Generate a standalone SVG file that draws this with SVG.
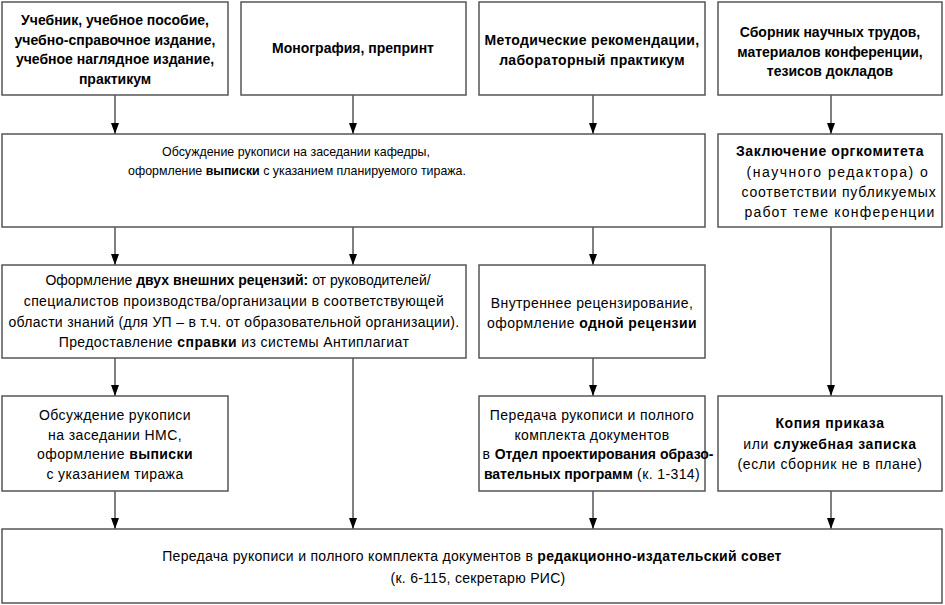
<svg xmlns="http://www.w3.org/2000/svg" width="945" height="605" viewBox="0 0 945 605">
<style>
.box{fill:#fff;stroke:#555;stroke-width:1.5}
.t{font-family:"Liberation Sans",Arial,sans-serif;fill:#000;text-anchor:middle}
.h{font-size:14px;font-weight:bold}
.r{font-size:14px;letter-spacing:0.4px}
.w6{letter-spacing:0.6px}
.s{letter-spacing:0.3px}
.m{font-size:12.4px}
.b{font-weight:bold}
.c{stroke:#000;stroke-width:1;fill:none;marker-end:url(#ah)}
</style>
<defs>
<marker id="ah" viewBox="0 0 11 8" refX="11" refY="4" markerWidth="11" markerHeight="8" markerUnits="userSpaceOnUse" orient="auto">
<path d="M0,0 L11,4 L0,8 z" fill="#000"/>
</marker>
</defs>
<rect width="945" height="605" fill="#fff"/>
<g id="connectors">
<line class="c" x1="115" y1="95" x2="115" y2="134"/>
<line class="c" x1="353" y1="95" x2="353" y2="134"/>
<line class="c" x1="593" y1="95" x2="593" y2="134"/>
<line class="c" x1="831" y1="95" x2="831" y2="134"/>
<line class="c" x1="115" y1="227" x2="115" y2="265"/>
<line class="c" x1="353" y1="227" x2="353" y2="265"/>
<line class="c" x1="593" y1="227" x2="593" y2="265"/>
<line class="c" x1="831" y1="227" x2="831" y2="396"/>
<line class="c" x1="115" y1="358" x2="115" y2="396"/>
<line class="c" x1="593" y1="358" x2="593" y2="396"/>
<line class="c" x1="353" y1="358" x2="353" y2="529"/>
<line class="c" x1="115" y1="491" x2="115" y2="529"/>
<line class="c" x1="593" y1="491" x2="593" y2="529"/>
<line class="c" x1="831" y1="491" x2="831" y2="529"/>
</g>
<g id="n1">
<rect class="box" x="2" y="2" width="226" height="93"/>
<text class="t h" x="115" y="25">Учебник, учебное пособие,</text>
<text class="t h" x="115" y="44.5">учебно-справочное издание,</text>
<text class="t h" x="115" y="64">учебное наглядное издание,</text>
<text class="t h" x="115" y="83.5">практикум</text>
</g>
<g id="n2">
<rect class="box" x="241" y="2" width="225" height="93"/>
<text class="t h" x="353" y="53">Монография, препринт</text>
</g>
<g id="n3">
<rect class="box" x="479" y="2" width="226" height="93"/>
<text class="t h" x="592" y="45" style="letter-spacing:0.3px">Методические рекомендации,</text>
<text class="t h" x="592" y="64.5" style="letter-spacing:0.3px">лабораторный практикум</text>
</g>
<g id="n4">
<rect class="box" x="718" y="2" width="224" height="93"/>
<text class="t h" x="830" y="37">Сборник научных трудов,</text>
<text class="t h" x="830" y="56.5">материалов конференции,</text>
<text class="t h" x="830" y="76">тезисов докладов</text>
</g>
<g id="n5">
<rect class="box" x="2" y="134" width="703" height="93"/>
<text class="t m" x="296" y="156">Обсуждение рукописи на заседании кафедры,</text>
<text class="t m" x="297" y="175">оформление <tspan class="b">выписки</tspan> с указанием планируемого тиража.</text>
</g>
<g id="n6">
<rect class="box" x="718" y="134" width="224" height="93"/>
<text class="t r w6" x="830" y="156"><tspan class="b">Заключение оргкомитета</tspan></text>
<text class="t r" x="838" y="176.5" style="letter-spacing:1.5px">(научного редактора) о</text>
<text class="t r" x="839" y="197" style="letter-spacing:0.8px">соответствии публикуемых</text>
<text class="t r" x="840" y="217" style="letter-spacing:1.2px">работ теме конференции</text>
</g>
<g id="n7">
<rect class="box" x="2" y="265" width="464" height="93"/>
<text class="t r" x="238" y="285" style="letter-spacing:0px">Оформление <tspan class="b">двух внешних рецензий:</tspan> от руководителей/</text>
<text class="t r" x="234" y="306">специалистов производства/организации в соответствующей</text>
<text class="t r s" x="234" y="326.5">области знаний (для УП – в т.ч. от образовательной организации).</text>
<text class="t r" x="234" y="347">Предоставление <tspan class="b">справки</tspan> из системы Антиплагиат</text>
</g>
<g id="n8">
<rect class="box" x="479" y="265" width="226" height="93"/>
<text class="t r" x="592" y="308">Внутреннее рецензирование,</text>
<text class="t r" x="592" y="328">оформление <tspan class="b">одной рецензии</tspan></text>
</g>
<g id="n9">
<rect class="box" x="2" y="396" width="226" height="95"/>
<text class="t r" x="115" y="420">Обсуждение рукописи</text>
<text class="t r" x="115" y="439.5">на заседании НМС,</text>
<text class="t r" x="115" y="459">оформление <tspan class="b">выписки</tspan></text>
<text class="t r" x="115" y="478.5">с указанием тиража</text>
</g>
<g id="n10">
<rect class="box" x="479" y="396" width="226" height="95"/>
<text class="t r" x="592" y="420">Передача рукописи и полного</text>
<text class="t r" x="592" y="439.5">комплекта документов</text>
<text class="t r" x="598" y="459">в <tspan class="b" style="letter-spacing:0px">Отдел проектирования образо-</tspan></text>
<text class="t r" x="592" y="478.5"><tspan class="b" style="letter-spacing:0px">вательных программ</tspan> (к. 1-314)</text>
</g>
<g id="n11">
<rect class="box" x="718" y="396" width="224" height="95"/>
<text class="t r w6" x="830" y="428"><tspan class="b">Копия приказа</tspan></text>
<text class="t r w6" x="830" y="448.5">или <tspan class="b">служебная записка</tspan></text>
<text class="t r w6" x="830" y="469">(если сборник не в плане)</text>
</g>
<g id="n12">
<rect class="box" x="2" y="529" width="940" height="74"/>
<text class="t r s" x="472" y="561">Передача рукописи и полного комплекта документов в <tspan class="b">редакционно-издательский совет</tspan></text>
<text class="t r s" x="478" y="583">(к. 6-115, секретарю РИС)</text>
</g>
</svg>
